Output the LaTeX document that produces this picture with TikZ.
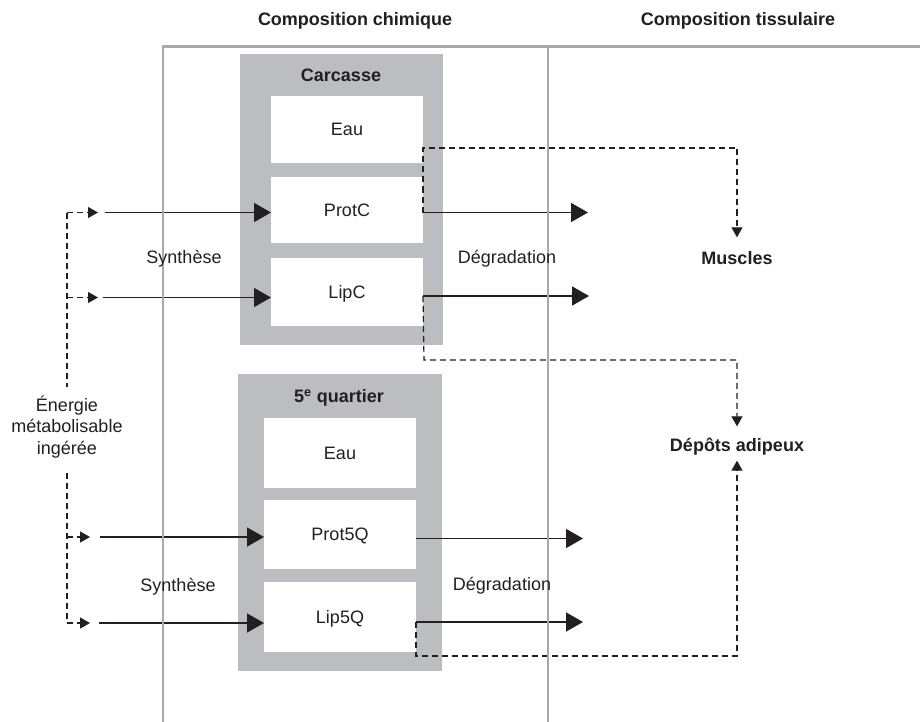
\documentclass[tikz,border=0pt]{standalone}
\usepackage{fontspec}
\setmainfont{Liberation Sans}
\usetikzlibrary{arrows.meta}
\definecolor{ink}{HTML}{231F20}
\definecolor{boxgray}{HTML}{BCBDC0}
\definecolor{linegray}{HTML}{A9A9AB}
\tikzset{
  txt/.style={font=\fontsize{18}{21.6}\selectfont, text=ink, text height=12.9pt, text depth=0pt, inner sep=3pt},
  btxt/.style={txt, font=\fontsize{18}{21.6}\selectfont\bfseries},
  graybox/.style={draw=none, fill=boxgray, inner sep=0pt, outer sep=0pt},
  inbox/.style={txt, fill=white, inner sep=0pt, outer sep=0pt, minimum width=152pt},
  bigarrow/.style={draw=ink, line width=1.4pt, -{Triangle[length=17pt,width=19pt]}},
  dasharrow/.style={draw=ink, line width=1.2pt, dash pattern=on 6pt off 4pt, -{Triangle[length=10pt,width=11pt]}},
  dashline/.style={draw=ink, line width=1.2pt, dash pattern=on 6pt off 4pt},
  grid/.style={draw=linegray, line width=2.2pt}
}
\begin{document}
\begin{tikzpicture}[x=1pt, y=-1pt]
\useasboundingbox[fill=white] (0,0) rectangle (920,722);
% gray containers
\node[graybox, minimum width=203pt, minimum height=291pt] (carc) at (341.5,199.5) {};
\node[graybox, minimum width=204pt, minimum height=297pt] (quart) at (340,522.5) {};
% inner boxes
\node[inbox, minimum height=67pt] (EauC) at (347,129.5) {Eau};
\node[inbox, minimum height=66pt] (ProtC) at (347,210) {ProtC};
\node[inbox, minimum height=68pt] (LipC) at (347,292) {LipC};
\node[inbox, minimum height=70pt] (EauQ) at (340,453) {Eau};
\node[inbox, minimum height=69pt] (Prot5Q) at (340,534.5) {Prot5Q};
\node[inbox, minimum height=70pt] (Lip5Q) at (340,617) {Lip5Q};
% titles
\node[btxt] (carcT) at (341,75) {Carcasse};
\node[btxt] (quartT) at (339,396) {5\textsuperscript{e} quartier};
% targets
\node[btxt] (Muscles) at (737,258) {Muscles};
\node[btxt] (Depots) at (737,445) {Dépôts adipeux};
% coordinates
\coordinate (e1) at (67,212.5);
\coordinate (e2) at (67,297.5);
\coordinate (e3) at (67,537);
\coordinate (e4) at (67,623);
\coordinate (etop) at (67,387);
\coordinate (ebot) at (67,473);
\coordinate (t1) at (98,212.5);
\coordinate (t2) at (98,297.5);
\coordinate (t3) at (90,537);
\coordinate (t4) at (90,623);
\coordinate (s1) at (105,212.5);
\coordinate (s2) at (103,297.5);
\coordinate (s3) at (100,537);
\coordinate (s4) at (99,623);
\coordinate (d1) at (588,212.5);
\coordinate (d2) at (589,296);
\coordinate (d3) at (583,538.5);
\coordinate (d4) at (583,622);
% energy supply (dashed)
\draw[dashline] (e1) -- (etop);
\draw[dashline] (ebot) -- (e4);
\draw[dasharrow] (e1) -- (t1);
\draw[dasharrow] (e2) -- (t2);
\draw[dasharrow] (e3) -- (t3);
\draw[dasharrow] (e4) -- (t4);
% synthesis
\draw[bigarrow] (s1) -- (s1 -| ProtC.west);
\draw[bigarrow] (s2) -- (s2 -| LipC.west);
\draw[bigarrow] (s3) -- (s3 -| Prot5Q.west);
\draw[bigarrow] (s4) -- (s4 -| Lip5Q.west);
% degradation
\draw[bigarrow] (d1 -| ProtC.east) -- (d1);
\draw[bigarrow] (d2 -| LipC.east) -- (d2);
\draw[bigarrow] (d3 -| Prot5Q.east) -- (d3);
\draw[bigarrow] (d4 -| Lip5Q.east) -- (d4);
% tissue flows (dashed)
\draw[dasharrow] (d1 -| ProtC.east) -- (423,148) -- (737,148) -- ([yshift=11pt]Muscles.north);
\draw[dasharrow] (d2 -| LipC.east) -- (424,360) -- (737,360) -- ([yshift=9pt]Depots.north);
\draw[dasharrow] (d4 -| Lip5Q.east) -- (416,656) -- (737,656) -- ([yshift=-6pt]Depots.south);
% grid lines
\draw[grid] (163,722) -- (163,46.5) -- (920,46.5);
\draw[grid] (548,46.5) -- (548,722);
% labels
\node[btxt] (h1) at (355,19) {Composition chimique};
\node[btxt] (h2) at (738,19) {Composition tissulaire};
\node[txt] (syn1) at (184,257) {Synthèse};
\node[txt] (deg1) at (507,257) {Dégradation};
\node[txt] (syn2) at (178,585) {Synthèse};
\node[txt] (deg2) at (502,584) {Dégradation};
\node[font=\fontsize{18}{21.5}\selectfont, text=ink, align=center, inner sep=0pt] (energie) at (67,427) {Énergie\\métabolisable\\ingérée};
\end{tikzpicture}
\end{document}
